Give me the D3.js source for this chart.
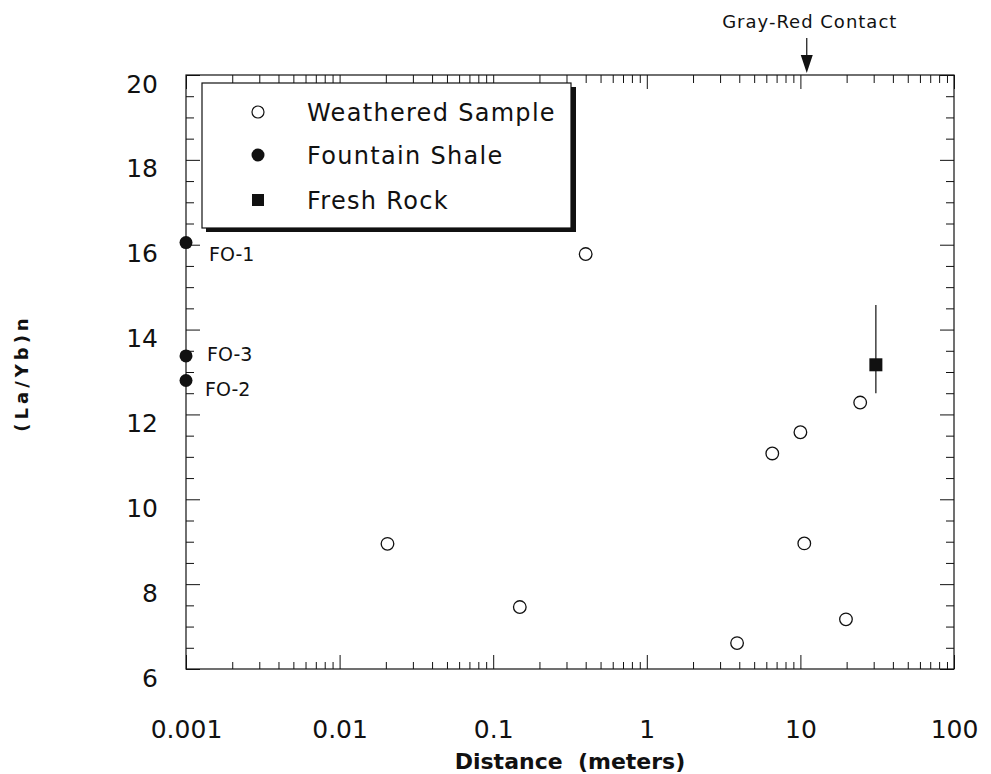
<!DOCTYPE html>
<html>
<head>
<meta charset="utf-8">
<script src="https://cdn.jsdelivr.net/npm/d3@7"></script>
<style>
  body { margin: 0; background: #fff; }
  text { font-family: "DejaVu Sans", sans-serif; fill: #111; }
</style>
</head>
<body>
<div id="chart"></div>
<script>
// data
const xTickValues = [0.001, 0.01, 0.1, 1, 10, 100];
const xTickLabels = ["0.001", "0.01", "0.1", "1", "10", "100"];
const yTickValues = [6, 8, 10, 12, 14, 16, 18, 20];

const weatheredDist  = [0.0205, 0.149, 0.40, 3.87, 19.8, 6.56, 10.0, 24.5, 10.6];
const weatheredRatio = [8.95, 7.46, 15.78, 6.61, 7.17, 11.08, 11.58, 12.28, 8.96];

const shaleNames = ["FO-1", "FO-3", "FO-2"];
const shaleDist  = [0.001, 0.001, 0.001];
const shaleRatio = [16.05, 13.38, 12.8];

const freshDist  = [31];
const freshRatio = [13.17];
const freshLow   = [12.5];
const freshHigh  = [14.58];

const contactDist = 11;
const legendNames = ["Weathered Sample", "Fountain Shale", "Fresh Rock"];

// layout
const margin = {top: 75, right: 37, bottom: 105, left: 186},
  width = 991 - margin.left - margin.right,
  height = 774 - margin.top - margin.bottom;

const svg = d3.select("#chart")
  .append("svg")
    .attr("width", 991)
    .attr("height", 774)
  .append("g")
    .attr("transform", `translate(${margin.left},${margin.top})`);

const x = d3.scaleLog().domain([0.001, 100]).range([0, width]);
const y = d3.scaleLinear().domain([6, 20]).range([height, 0]);

// minor tick positions
const xMinor = [];
xTickValues.slice(0, -1).forEach(d => { for (let k = 2; k <= 9; k++) xMinor.push(d * k); });
const yMinor = d3.range(6.5, 20, 1).concat(d3.range(7, 20, 2));

function styleAxis(g) {
  g.select(".domain").remove();
  g.selectAll("line").attr("stroke", "#111").attr("stroke-width", 1);
}

// ticks on all four sides, pointing inward
svg.append("g").attr("transform", `translate(0,${height})`)
  .call(d3.axisBottom(x).tickValues(xTickValues).tickSize(-14).tickFormat("")).call(styleAxis);
svg.append("g").attr("transform", `translate(0,${height})`)
  .call(d3.axisBottom(x).tickValues(xMinor).tickSize(-7).tickFormat("")).call(styleAxis);
svg.append("g")
  .call(d3.axisTop(x).tickValues(xTickValues).tickSize(-14).tickFormat("")).call(styleAxis);
svg.append("g")
  .call(d3.axisTop(x).tickValues(xMinor).tickSize(-8).tickFormat("")).call(styleAxis);

svg.append("g")
  .call(d3.axisLeft(y).tickValues(yTickValues).tickSize(-14).tickFormat("")).call(styleAxis);
svg.append("g")
  .call(d3.axisLeft(y).tickValues(yMinor).tickSize(-8).tickFormat("")).call(styleAxis);
svg.append("g").attr("transform", `translate(${width},0)`)
  .call(d3.axisRight(y).tickValues(yTickValues).tickSize(-14).tickFormat("")).call(styleAxis);
svg.append("g").attr("transform", `translate(${width},0)`)
  .call(d3.axisRight(y).tickValues(yMinor).tickSize(-8).tickFormat("")).call(styleAxis);

// frame
svg.append("rect")
  .attr("width", width).attr("height", height)
  .attr("fill", "none").attr("stroke", "#111").attr("stroke-width", 1.2);

// tick labels
const xLab = svg.append("g").attr("transform", `translate(0,${height})`)
  .call(d3.axisBottom(x).tickValues(xTickValues).tickSize(0)
    .tickFormat((d, i) => xTickLabels[i]));
xLab.select(".domain").remove();
xLab.selectAll("text")
  .attr("y", 69).attr("dy", 0)
  .style("font-size", "25px").style("font-family", "DejaVu Sans");

const yLab = svg.append("g")
  .call(d3.axisLeft(y).tickValues(yTickValues).tickSize(0).tickPadding(28));
yLab.select(".domain").remove();
yLab.selectAll("text")
  .attr("dy", 17)
  .style("font-size", "25px").style("font-family", "DejaVu Sans");

// axis titles
svg.append("text")
  .attr("x", 384).attr("y", height + 100)
  .attr("text-anchor", "middle")
  .attr("xml:space", "preserve")
  .style("font-size", "22px").style("font-weight", "bold")
  .text("Distance  (meters)");

svg.append("text")
  .attr("transform", `translate(${28 - margin.left},${373 - margin.top}) rotate(-90)`)
  .attr("text-anchor", "middle")
  .style("font-size", "18px").style("font-weight", "bold")
  .style("letter-spacing", "4px")
  .text("(La/Yb)n");

// gray-red contact marker
const cx = x(contactDist);
svg.append("line")
  .attr("x1", cx).attr("x2", cx).attr("y1", -37).attr("y2", -10)
  .attr("stroke", "#111").attr("stroke-width", 1.2);
svg.append("path")
  .attr("d", `M${cx - 6},${-20} L${cx + 6},${-20} L${cx},${-2} Z`)
  .attr("fill", "#111");
svg.append("text")
  .attr("x", cx + 3).attr("y", -47)
  .attr("text-anchor", "middle")
  .style("font-size", "18px")
  .style("letter-spacing", "1px")
  .text("Gray-Red Contact");

// fresh rock error bar + square
freshDist.forEach((d, i) => {
  svg.append("line")
    .attr("x1", x(d)).attr("x2", x(d))
    .attr("y1", y(freshLow[i])).attr("y2", y(freshHigh[i]))
    .attr("stroke", "#111").attr("stroke-width", 1.2);
});
svg.selectAll(".fresh")
  .data(freshDist)
  .join("rect")
    .attr("x", d => x(d) - 6.5)
    .attr("y", (d, i) => y(freshRatio[i]) - 6.5)
    .attr("width", 13).attr("height", 13)
    .attr("fill", "#111");

// weathered samples
svg.selectAll(".weathered")
  .data(weatheredDist)
  .join("circle")
    .attr("cx", d => x(d))
    .attr("cy", (d, i) => y(weatheredRatio[i]))
    .attr("r", 6.3)
    .attr("fill", "#fff")
    .attr("stroke", "#111")
    .attr("stroke-width", 1.3);

// fountain shale
const labelOffsets = [[23, 11], [21, -2], [19, 9]];
svg.selectAll(".shale")
  .data(shaleDist)
  .join("circle")
    .attr("cx", d => x(d))
    .attr("cy", (d, i) => y(shaleRatio[i]))
    .attr("r", 6.5)
    .attr("fill", "#111");
svg.selectAll(".shaleLabel")
  .data(shaleNames)
  .join("text")
    .attr("x", (d, i) => x(shaleDist[i]) + labelOffsets[i][0])
    .attr("y", (d, i) => y(shaleRatio[i]) + labelOffsets[i][1] + 7)
    .style("font-size", "19px")
    .text(d => d);

// legend with drop shadow
const lg = svg.append("g").attr("transform", `translate(${202 - margin.left},${83 - margin.top})`);
lg.append("rect").attr("x", 4).attr("y", 4).attr("width", 370).attr("height", 145).attr("fill", "#111");
lg.append("rect").attr("width", 369).attr("height", 145)
  .attr("fill", "#fff").attr("stroke", "#111").attr("stroke-width", 1.2);

const rowY = [29, 72, 117];
lg.append("circle").attr("cx", 56).attr("cy", rowY[0]).attr("r", 6)
  .attr("fill", "#fff").attr("stroke", "#111").attr("stroke-width", 1.2);
lg.append("circle").attr("cx", 56).attr("cy", rowY[1]).attr("r", 6.5).attr("fill", "#111");
lg.append("rect").attr("x", 50).attr("y", rowY[2] - 6).attr("width", 12).attr("height", 12).attr("fill", "#111");

lg.selectAll(".legText")
  .data(legendNames)
  .join("text")
    .attr("x", 105)
    .attr("y", (d, i) => rowY[i] + 9)
    .style("font-size", "24px")
    .style("letter-spacing", "1.3px")
    .text(d => d);
</script>
</body>
</html>
